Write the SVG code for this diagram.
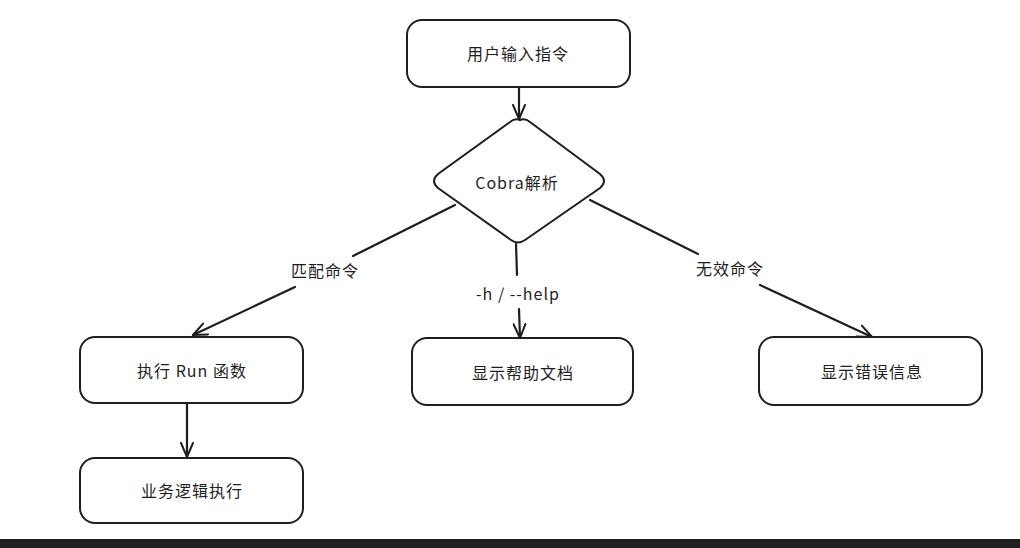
<svg xmlns="http://www.w3.org/2000/svg" width="1020" height="548" viewBox="0 0 1020 548">
<style>
.box{fill:#ffffff;stroke:#1e1e1e;stroke-width:2}
.edge{fill:none;stroke:#1e1e1e;stroke-width:2.2;stroke-linecap:round}
.t{font-family:"Noto Sans CJK SC","Noto Sans",sans-serif;font-size:16px;fill:#1e1e1e;text-anchor:middle;dominant-baseline:central;letter-spacing:1px}
.lbl{font-family:"Noto Sans CJK SC","Noto Sans",sans-serif;font-size:16px;fill:#1e1e1e;text-anchor:middle;dominant-baseline:central;letter-spacing:1px}
</style>
<defs>
<marker id="arr" viewBox="0 0 16 14" refX="15" refY="7" markerWidth="16" markerHeight="14" markerUnits="userSpaceOnUse" orient="auto">
<path d="M1,1 L15,7 L1,13" fill="none" stroke="#1e1e1e" stroke-width="2" stroke-linecap="round" stroke-linejoin="round"/>
</marker>
</defs>
<rect x="0" y="0" width="1020" height="548" fill="#ffffff"/>
<g id="connectors">
<path class="edge" d="M519 88 L519 119" marker-end="url(#arr)"/>
<path class="edge" d="M455 205 L353 256 M295 287 L193 335" marker-end="url(#arr)"/>
<path class="edge" d="M516 244 L517 275 M519 309 L520 338" marker-end="url(#arr)"/>
<path class="edge" d="M590 200 L698 254 M760 285 L872 337" marker-end="url(#arr)"/>
<path class="edge" d="M187 404 L187 457" marker-end="url(#arr)"/>
<text class="lbl" x="325" y="270">匹配命令</text>
<text class="lbl" x="518" y="293">-h / --help</text>
<text class="lbl" x="730" y="268">无效命令</text>
</g>
<g id="input">
<rect class="box" x="407" y="20" width="223" height="67" rx="15"/>
<text class="t" x="518" y="53">用户输入指令</text>
</g>
<g id="cobra">
<path class="box" d="M520 120 Q525 118 530 122 L600 174 Q608 181 600 188 L525 240 Q518 245 511 240 L438 188 Q430 181 438 174 L510 122 Q515 118 520 120 Z"/>
<text class="t" x="517" y="182">Cobra解析</text>
</g>
<g id="run">
<rect class="box" x="80" y="337" width="223" height="66" rx="15"/>
<text class="t" x="192" y="370">执行 Run 函数</text>
</g>
<g id="business">
<rect class="box" x="80" y="458" width="223" height="65" rx="15"/>
<text class="t" x="192" y="490">业务逻辑执行</text>
</g>
<g id="help">
<rect class="box" x="412" y="338" width="221" height="67" rx="15"/>
<text class="t" x="523" y="372">显示帮助文档</text>
</g>
<g id="error">
<rect class="box" x="759" y="337" width="223" height="68" rx="15"/>
<text class="t" x="872" y="371">显示错误信息</text>
</g>
<rect x="0" y="539" width="1020" height="9" fill="#1f1f1f"/>
</svg>
